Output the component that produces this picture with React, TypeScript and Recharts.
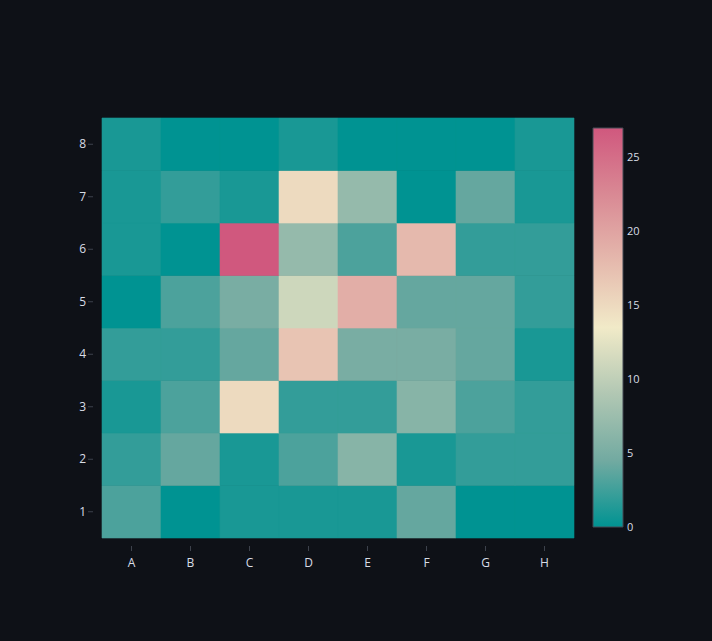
import React from 'react';
import { BarChart, Bar, Cell, XAxis, YAxis } from 'recharts';

// heatmap values, one array per row (bottom row first), columns A..H
const columns = ['A', 'B', 'C', 'D', 'E', 'F', 'G', 'H'];
const rowLabels = ['1', '2', '3', '4', '5', '6', '7', '8'];
const row1 = [3, 0, 1, 1, 1, 4, 0, 0];
const row2 = [2, 4, 1, 3, 6, 1, 2, 2];
const row3 = [1, 3, 15, 2, 2, 6, 3, 2];
const row4 = [2, 2, 4, 17, 5, 5, 4, 1];
const row5 = [0, 3, 5, 11, 19, 4, 4, 2];
const row6 = [1, 0, 27, 7, 3, 18, 2, 2];
const row7 = [1, 2, 1, 15, 7, 0, 4, 1];
const row8 = [1, 0, 0, 1, 0, 0, 0, 1];
const rows = [row1, row2, row3, row4, row5, row6, row7, row8];

const colorbarTicks = [0, 5, 10, 15, 20, 25];
const zMin = 0;
const zMax = 27;

// tealrose colour scale
const SCALE = ['#009392', '#72aaa1', '#b1c7b3', '#f1eac8', '#e5b9ad', '#d98994', '#d0587e'];

const BG = '#0e1117';
const TEXT = '#d8dde6';
const TICK = '#3d424c';
const FONT = '"Open Sans", "Noto Sans", sans-serif';

const hex = (h: string) => [1, 3, 5].map((i) => parseInt(h.slice(i, i + 2), 16));

const colorFor = (v: number) => {
  const t = Math.min(1, Math.max(0, (v - zMin) / (zMax - zMin))) * (SCALE.length - 1);
  const i = Math.min(SCALE.length - 2, Math.floor(t));
  const f = t - i;
  const a = hex(SCALE[i]);
  const b = hex(SCALE[i + 1]);
  const c = a.map((x, k) => Math.round(x + (b[k] - x) * f));
  return `rgb(${c[0]}, ${c[1]}, ${c[2]})`;
};

const table = columns.map((col, i) => {
  const d: Record<string, string | number> = { col };
  rows.forEach((r, k) => {
    d[`r${k + 1}`] = 1;
    d[`v${k + 1}`] = r[i];
  });
  return d;
});

const XTick = (props: any) => {
  const { x, y, payload } = props;
  return (
    <g>
      <line x1={x} x2={x} y1={y + 8} y2={y + 13} stroke={TICK} />
      <text x={x} y={y + 29} textAnchor="middle" fill={TEXT} fontSize={12} fontFamily={FONT}>
        {payload.value}
      </text>
    </g>
  );
};

const YTick = (props: any) => {
  const { x, y, payload } = props;
  return (
    <g>
      <line x1={x - 14} x2={x - 9} y1={y} y2={y} stroke={TICK} />
      <text x={x - 16} y={y + 4} textAnchor="end" fill={TEXT} fontSize={12} fontFamily={FONT}>
        {rowLabels[Math.round(payload.value - 0.5)]}
      </text>
    </g>
  );
};

export default function App() {
  return (
    <div style={{ position: 'absolute', left: 0, top: 0, width: 712, height: 641, background: BG, overflow: 'hidden' }}>
      <svg width={0} height={0} style={{ position: 'absolute' }}>
        <defs>
          <linearGradient id="tealrose" x1="0" y1="1" x2="0" y2="0">
            {SCALE.map((c, i) => (
              <stop key={c} offset={i / (SCALE.length - 1)} stopColor={c} />
            ))}
          </linearGradient>
        </defs>
      </svg>

      <div style={{ position: 'absolute', left: 0, top: 0 }}>
        <BarChart
          width={580}
          height={641}
          data={table}
          barCategoryGap={0}
          barGap={0}
          margin={{ top: 118, right: 6, bottom: 73, left: 72 }}
        >
          <XAxis dataKey="col" axisLine={false} tickLine={false} tickSize={0} tickMargin={0} height={30} tick={<XTick />} interval={0} />
          <YAxis
            type="number"
            domain={[0, 8]}
            ticks={[0.5, 1.5, 2.5, 3.5, 4.5, 5.5, 6.5, 7.5]}
            axisLine={false}
            tickLine={false}
            tickSize={0}
            tickMargin={0}
            width={30}
            tick={<YTick />}
          />
          {rows.map((_, k) => (
            <Bar key={k} dataKey={`r${k + 1}`} stackId="h" isAnimationActive={false}>
              {table.map((d, i) => {
                const c = colorFor(d[`v${k + 1}`] as number);
                return <Cell key={i} fill={c} stroke={c} strokeWidth={0.6} />;
              })}
            </Bar>
          ))}
        </BarChart>
      </div>

      <div style={{ position: 'absolute', left: 580, top: 0 }}>
        <BarChart
          width={120}
          height={641}
          data={[{ name: 'z', z: zMax }]}
          barCategoryGap={0}
          margin={{ top: 128, right: 17, bottom: 114, left: 13 }}
        >
          <XAxis dataKey="name" hide />
          <YAxis
            orientation="right"
            type="number"
            domain={[zMin, zMax]}
            ticks={colorbarTicks}
            axisLine={false}
            tickLine={false}
            tickSize={0}
            tickMargin={4}
            width={60}
            tick={{ fill: TEXT, fontSize: 11, fontFamily: FONT }}
          />
          <Bar dataKey="z" fill="url(#tealrose)" stroke="#444a55" strokeWidth={1} isAnimationActive={false} />
        </BarChart>
      </div>
    </div>
  );
}
